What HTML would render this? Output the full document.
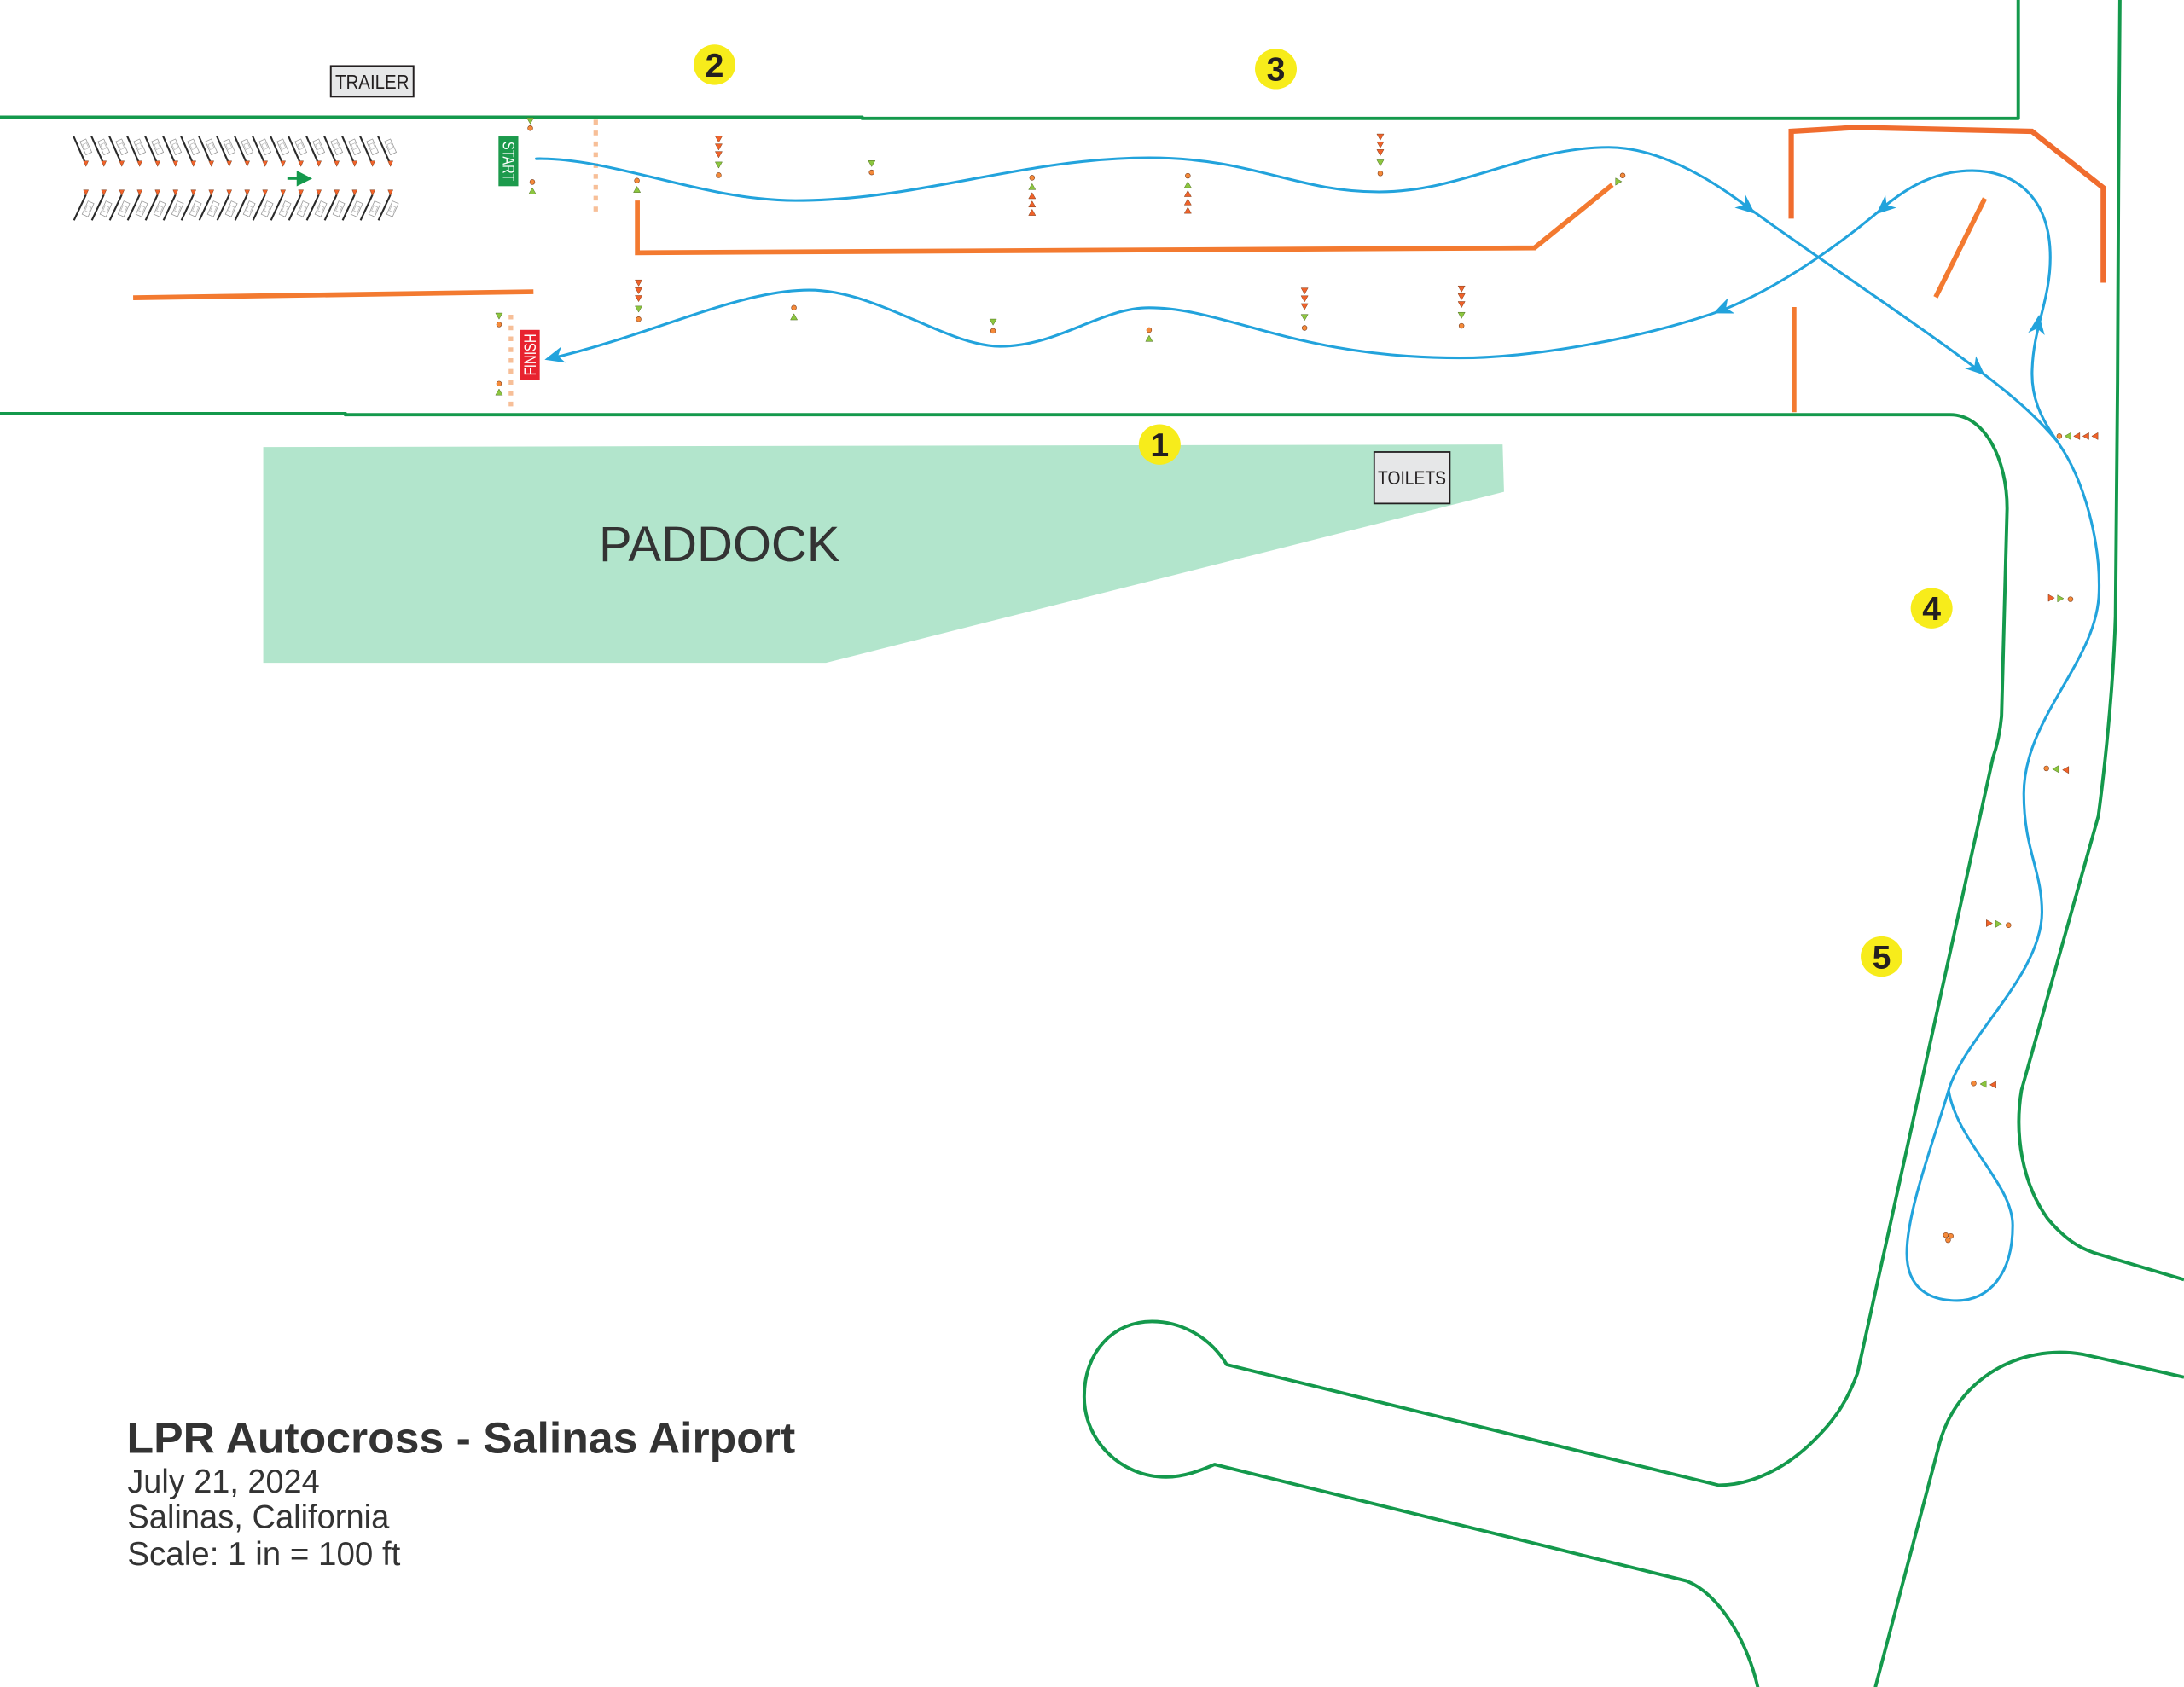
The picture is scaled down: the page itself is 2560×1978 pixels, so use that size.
<!DOCTYPE html>
<html>
<head>
<meta charset="utf-8">
<style>
  html,body{margin:0;padding:0;background:#ffffff;}
  body{width:2560px;height:1978px;overflow:hidden;}
  svg{display:block;}
  text{font-family:"Liberation Sans", Arial, sans-serif;}
</style>
</head>
<body>
<svg width="2560" height="1978" viewBox="0 0 1568 1211.5" xmlns="http://www.w3.org/2000/svg" xmlns:xlink="http://www.w3.org/1999/xlink">
  <defs>
    <g id="co"><circle cx="0" cy="0" r="1.8" fill="#f58a3a" stroke="#7a3a18" stroke-width="0.35"/></g>
    <g id="od"><polygon points="-2.5,-2.2 2.5,-2.2 0,2.2" fill="#f0622a" stroke="#7a3a18" stroke-width="0.3"/></g>
    <g id="gd"><polygon points="-2.5,-2.2 2.5,-2.2 0,2.2" fill="#8cc63f" stroke="#4d6b22" stroke-width="0.3"/></g>
    <g id="ou"><polygon points="-2.5,2.2 2.5,2.2 0,-2.2" fill="#f0622a" stroke="#7a3a18" stroke-width="0.3"/></g>
    <g id="gu"><polygon points="-2.5,2.2 2.5,2.2 0,-2.2" fill="#8cc63f" stroke="#4d6b22" stroke-width="0.3"/></g>
    <g id="ol"><polygon points="2.2,-2.5 2.2,2.5 -2.2,0" fill="#f0622a" stroke="#7a3a18" stroke-width="0.3"/></g>
    <g id="gl"><polygon points="2.2,-2.5 2.2,2.5 -2.2,0" fill="#8cc63f" stroke="#4d6b22" stroke-width="0.3"/></g>
    <g id="or"><polygon points="-2.2,-2.5 -2.2,2.5 2.2,0" fill="#f0622a" stroke="#7a3a18" stroke-width="0.3"/></g>
    <g id="gr"><polygon points="-2.2,-2.5 -2.2,2.5 2.2,0" fill="#8cc63f" stroke="#4d6b22" stroke-width="0.3"/></g>
    <g id="pt">
      <rect x="-2.3" y="-5.2" width="4.6" height="10.4" transform="translate(9,105.5) rotate(-24)" fill="none" stroke="#9a9a9a" stroke-width="0.5"/>
      <rect x="-1.5" y="-2.5" width="3" height="4" transform="translate(9,105.5) rotate(-24)" fill="none" stroke="#b0b0b0" stroke-width="0.4"/>
      <line x1="0" y1="97.6" x2="8.1" y2="116" stroke="#2b2b2b" stroke-width="1.3"/>
      <polygon points="7.2,115.6 10.8,115.6 9,119.6" fill="#f0622a" stroke="#7a3a18" stroke-width="0.3"/>
    </g>
    <g id="pb">
      <rect x="-2.3" y="-5.2" width="4.6" height="10.4" transform="translate(10.5,150) rotate(24)" fill="none" stroke="#9a9a9a" stroke-width="0.5"/>
      <rect x="-1.5" y="-2" width="3" height="4" transform="translate(10.5,150) rotate(24)" fill="none" stroke="#b0b0b0" stroke-width="0.4"/>
      <line x1="9" y1="139.8" x2="0.4" y2="158.2" stroke="#2b2b2b" stroke-width="1.3"/>
      <polygon points="7.2,136.4 10.8,136.4 9,140.4" fill="#f0622a" stroke="#7a3a18" stroke-width="0.3"/>
    </g>
  </defs>

  <rect x="0" y="0" width="1568" height="1211.5" fill="#ffffff"/>

  <!-- Paddock -->
  <polygon points="189,321 1078.8,319.2 1079.8,353.2 593,476 189,476" fill="#b2e5cc"/>
  <text x="430" y="403" font-size="36" fill="#333333" textLength="173" lengthAdjust="spacingAndGlyphs">PADDOCK</text>

  <!-- Green road edges -->
  <g fill="none" stroke="#14994c" stroke-width="2.4" stroke-linejoin="round">
    <path d="M0,84.2 L619,84.2 L619,85 L1449,85 L1449,0"/>
    <path d="M1522,0 L1521,130 L1520.3,275 L1518.8,442.8 C1517,500 1510,560 1506.5,586 L1451.3,783 C1446,815 1452,850 1470,875 C1485,893 1497,898 1507.6,901 L1568,919"/>
    <path d="M0,297 L248,297 L248,297.8 L1400.1,297.8 C1425,297.8 1441,330 1441,365.2 L1437,514.4 C1436,525 1434,535 1430.8,544.3 L1333.6,986 C1325,1010 1313,1024 1302.9,1033.8 C1285,1052 1260,1066.6 1233.8,1066.6 L880.7,980 C870,962 850,949 827,949 C800,949 778.4,970 778.4,1003 C778.4,1035 805,1060.7 837.2,1060.7 C850,1060.7 862,1056 872,1051.7 L1210.8,1135.3 C1235,1145 1255,1180 1262,1211.7"/>
    <path d="M1568,989 L1495,972.5 C1450,965 1405,990 1392.4,1036.8 L1346.4,1211.7"/>
  </g>

  <!-- Orange barriers -->
  <g fill="none" stroke="#f37a30" stroke-width="3.5" stroke-linejoin="miter">
    <path d="M95.6,213.8 L383,209.5"/>
    <path d="M457.6,144 L457.6,181.5 L1101.7,178 L1157.5,132.7"/>
    <path d="M1286,157 L1286,94.3 L1332.5,91.5 L1458.8,94.3 L1510,134.8 L1510,203" stroke-width="3.8" stroke="#f06c2e"/>
    <path d="M1288,220.5 L1288,296"/>
    <path d="M1425,142.5 L1389.7,213.4"/>
  </g>

  <!-- Dotted start / finish lines -->
  <line x1="427.7" y1="86" x2="427.7" y2="154" stroke="#f7bf98" stroke-width="3.2" stroke-dasharray="3.4 4.4"/>
  <line x1="366.8" y1="226" x2="366.8" y2="293" stroke="#f7bf98" stroke-width="3.2" stroke-dasharray="3.4 4.4"/>

  <!-- Blue course line -->
  <g fill="none" stroke="#22a3dc" stroke-width="1.9" stroke-linecap="round">
    <path d="M385,114 C440,113 505,144 571,144 C660,144 735,113.3 825,113.3 C900,113.3 930,137.8 990,137.8 C1050,137.8 1095,105.8 1155,105.8 C1185,105.8 1220,122 1255,149 C1300,182 1370,228 1420,265.5 C1445,284 1463,300 1477,317 C1497,345 1508,390 1507,425 C1506,475 1453,515 1453,570 C1453,610 1466,625 1466,655 C1466,700 1410,745 1399,783 C1388,820 1369,870 1369,900 C1369,925 1385,934 1405,934 C1428,934 1445,915 1445,880 C1445,850 1405,820 1399,783"/>
    <path d="M1477,317 C1465,300 1458,285 1459,265 C1460,235 1472,215 1472,185 C1472,140 1445,122.5 1416,122.5 C1390,122.5 1370,134 1352,149 C1330,168 1285,203 1237,222.6 C1180,243 1100,257 1048,257 C930,257 880,221 825,221 C790,221 760,248.7 718,248.7 C680,248.7 630,208.3 581,208.3 C530,208.3 470,240 395,257.5"/>
  </g>

  <!-- Blue arrowheads -->
  <g fill="#22a3dc">
    <path d="M0,0 L-14,-6 L-10,0 L-14,6 Z" transform="translate(1260,153.5) rotate(40)"/>
    <path d="M0,0 L-14,-6 L-10,0 L-14,6 Z" transform="translate(1425,269.5) rotate(42)"/>
    <path d="M0,0 L-14,-6 L-10,0 L-14,6 Z" transform="translate(1347,153.8) rotate(139)"/>
    <path d="M0,0 L-14,-6 L-10,0 L-14,6 Z" transform="translate(1230,225) rotate(157)"/>
    <path d="M0,0 L-14,-6 L-10,0 L-14,6 Z" transform="translate(1464,226) rotate(-82)"/>
    <path d="M0,0 L-14,-6 L-10,0 L-14,6 Z" transform="translate(391,258.3) rotate(165)"/>
  </g>

  <!-- Parking area -->
  <g>
    <use href="#pt" x="52.7"/><use href="#pt" x="65.56"/><use href="#pt" x="78.42"/><use href="#pt" x="91.28"/>
    <use href="#pt" x="104.14"/><use href="#pt" x="117"/><use href="#pt" x="129.86"/><use href="#pt" x="142.72"/>
    <use href="#pt" x="155.58"/><use href="#pt" x="168.44"/><use href="#pt" x="181.3"/><use href="#pt" x="194.16"/>
    <use href="#pt" x="207.02"/><use href="#pt" x="219.88"/><use href="#pt" x="232.74"/><use href="#pt" x="245.6"/>
    <use href="#pt" x="258.46"/><use href="#pt" x="271.32"/>
    <use href="#pb" x="52.7"/><use href="#pb" x="65.56"/><use href="#pb" x="78.42"/><use href="#pb" x="91.28"/>
    <use href="#pb" x="104.14"/><use href="#pb" x="117"/><use href="#pb" x="129.86"/><use href="#pb" x="142.72"/>
    <use href="#pb" x="155.58"/><use href="#pb" x="168.44"/><use href="#pb" x="181.3"/><use href="#pb" x="194.16"/>
    <use href="#pb" x="207.02"/><use href="#pb" x="219.88"/><use href="#pb" x="232.74"/><use href="#pb" x="245.6"/>
    <use href="#pb" x="258.46"/><use href="#pb" x="271.32"/>
    <line x1="206.3" y1="128.2" x2="215" y2="128.2" stroke="#14994c" stroke-width="1.8"/>
    <polygon points="213,122.5 224.2,128.2 213,133.8" fill="#14994c"/>
  </g>

  <!-- Cones: top lane -->
  <use href="#gd" x="380.7" y="86.8"/><use href="#co" x="380.7" y="92"/>
  <use href="#co" x="382.2" y="130.7"/><use href="#gu" x="382.2" y="137"/>
  <use href="#co" x="457.3" y="129.7"/><use href="#gu" x="457.3" y="136"/>
  <use href="#od" x="516" y="100"/><use href="#od" x="516" y="105.5"/><use href="#od" x="516" y="111"/><use href="#gd" x="516" y="118.5"/><use href="#co" x="516" y="125.8"/>
  <use href="#gd" x="625.8" y="117.5"/><use href="#co" x="625.8" y="123.8"/>
  <use href="#co" x="741" y="127.6"/><use href="#gu" x="741" y="134"/><use href="#ou" x="741" y="140.5"/><use href="#ou" x="741" y="146.5"/><use href="#ou" x="741" y="152.5"/>
  <use href="#co" x="852.8" y="126.2"/><use href="#gu" x="852.8" y="132.6"/><use href="#ou" x="852.8" y="139"/><use href="#ou" x="852.8" y="145"/><use href="#ou" x="852.8" y="151"/>
  <use href="#od" x="991" y="98.4"/><use href="#od" x="991" y="104"/><use href="#od" x="991" y="109.6"/><use href="#gd" x="991" y="117"/><use href="#co" x="991" y="124.5"/>
  <use href="#co" x="1165" y="126"/>
  <g transform="translate(1161,131) rotate(30)"><polygon points="-2.5,-2.2 2.5,-2.2 0,2.2" fill="#8cc63f" stroke="#4d6b22" stroke-width="0.3"/></g>

  <!-- Cones: lower lane -->
  <use href="#od" x="458.5" y="203.2"/><use href="#od" x="458.5" y="208.8"/><use href="#od" x="458.5" y="214.4"/><use href="#gd" x="458.5" y="222"/><use href="#co" x="458.5" y="229.2"/>
  <use href="#co" x="570" y="221"/><use href="#gu" x="570" y="227.5"/>
  <use href="#gd" x="713" y="231.3"/><use href="#co" x="713" y="237.6"/>
  <use href="#co" x="825" y="237"/><use href="#gu" x="825" y="243"/>
  <use href="#od" x="936.6" y="209"/><use href="#od" x="936.6" y="214.6"/><use href="#od" x="936.6" y="220.2"/><use href="#gd" x="936.6" y="228"/><use href="#co" x="936.6" y="235.5"/>
  <use href="#od" x="1049.3" y="207.5"/><use href="#od" x="1049.3" y="213.1"/><use href="#od" x="1049.3" y="218.7"/><use href="#gd" x="1049.3" y="226.5"/><use href="#co" x="1049.3" y="234"/>
  <use href="#gd" x="358.3" y="227"/><use href="#co" x="358.3" y="233"/>
  <use href="#co" x="358.3" y="275.5"/><use href="#gu" x="358.3" y="281.5"/>

  <!-- Cones: right side -->
  <use href="#co" x="1478.5" y="313.2"/><use href="#gl" x="1484.5" y="313.2"/><use href="#ol" x="1491" y="313.2"/><use href="#ol" x="1497.5" y="313.2"/><use href="#ol" x="1504" y="313.2"/>
  <use href="#or" x="1472.8" y="429.4"/><use href="#gr" x="1479.4" y="429.8"/><use href="#co" x="1486.5" y="430.3"/>
  <use href="#co" x="1469.2" y="551.8"/><use href="#gl" x="1475.8" y="552.3"/><use href="#ol" x="1483" y="552.9"/>
  <use href="#or" x="1428.3" y="663"/><use href="#gr" x="1434.9" y="663.5"/><use href="#co" x="1442" y="664.4"/>
  <use href="#co" x="1417" y="778"/><use href="#gl" x="1423.8" y="778.5"/><use href="#ol" x="1430.8" y="779"/>
  <use href="#co" x="1397" y="887"/><use href="#co" x="1400.6" y="887.6"/><use href="#co" x="1398.6" y="890.6"/>

  <!-- START / FINISH -->
  <rect x="357.9" y="98" width="14.2" height="35.7" fill="#1c9a4c"/>
  <text transform="translate(361,115.8) rotate(90)" x="0" y="0" font-size="12" fill="#ffffff" text-anchor="middle" textLength="28.5" lengthAdjust="spacingAndGlyphs">START</text>
  <rect x="373.2" y="236.9" width="14.3" height="35.7" fill="#e8232f"/>
  <text transform="translate(384.6,254.7) rotate(-90)" x="0" y="0" font-size="12" fill="#ffffff" text-anchor="middle" textLength="30" lengthAdjust="spacingAndGlyphs">FINISH</text>

  <!-- TRAILER / TOILETS -->
  <rect x="237.5" y="47.4" width="59.4" height="22" fill="#e6e7e8" stroke="#231f20" stroke-width="1.2"/>
  <text x="267.2" y="63.7" font-size="14" fill="#231f20" text-anchor="middle" textLength="53" lengthAdjust="spacingAndGlyphs">TRAILER</text>
  <rect x="986.6" y="324.6" width="54.3" height="37" fill="#e6e7e8" stroke="#231f20" stroke-width="1.1"/>
  <text x="1013.7" y="348" font-size="13.5" fill="#231f20" text-anchor="middle" textLength="49" lengthAdjust="spacingAndGlyphs">TOILETS</text>

  <!-- Numbered markers -->
  <g font-weight="bold" font-size="24" fill="#231f20" text-anchor="middle">
    <ellipse cx="513" cy="46.5" rx="15" ry="14.5" fill="#f7ec1b"/>
    <text x="513" y="55">2</text>
    <ellipse cx="916" cy="49.5" rx="15" ry="14.5" fill="#f7ec1b"/>
    <text x="916" y="58">3</text>
    <ellipse cx="832.6" cy="319.2" rx="15" ry="14.5" fill="#f7ec1b"/>
    <text x="832.6" y="327.7">1</text>
    <ellipse cx="1386.8" cy="436.8" rx="15" ry="14.5" fill="#f7ec1b"/>
    <text x="1386.8" y="445.3">4</text>
    <ellipse cx="1350.9" cy="686.9" rx="15" ry="14.5" fill="#f7ec1b"/>
    <text x="1350.9" y="695.4">5</text>
  </g>

  <!-- Title block -->
  <text x="91" y="1043.3" font-size="31" font-weight="bold" fill="#333333" textLength="480" lengthAdjust="spacingAndGlyphs">LPR Autocross - Salinas Airport</text>
  <text x="91.5" y="1071.9" font-size="24" fill="#333333" textLength="138" lengthAdjust="spacingAndGlyphs">July 21, 2024</text>
  <text x="91.5" y="1097.4" font-size="24" fill="#333333" textLength="188" lengthAdjust="spacingAndGlyphs">Salinas, California</text>
  <text x="91.5" y="1123.9" font-size="24" fill="#333333" textLength="196" lengthAdjust="spacingAndGlyphs">Scale: 1 in = 100 ft</text>
</svg>
</body>
</html>
